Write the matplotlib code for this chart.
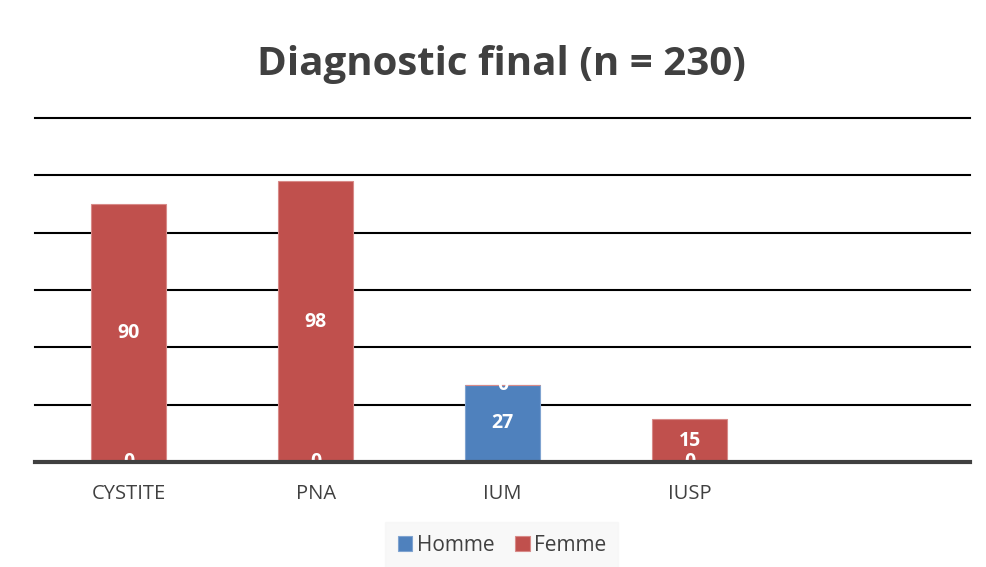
import matplotlib
matplotlib.use("Agg")
import matplotlib.pyplot as plt
import numpy as np

categories = ["CYSTITE", "PNA", "IUM", "IUSP", ""]
homme = [0, 0, 27, 0, None]
femme = [90, 98, 0, 15, None]
title = "Diagnostic final (n = 230)"

blue = "#4F81BD"
red = "#C0504D"
dark = "#404040"

plt.rcParams['font.family'] = ['Open Sans', 'DejaVu Sans']

fig = plt.figure(figsize=(9.86, 5.67), dpi=100)
ax = fig.add_axes([0.0355, 0.185, 0.9485, 0.607])

x = np.arange(len(categories))
n = 4
h = np.array(homme[:n], dtype=float)
f = np.array(femme[:n], dtype=float)
w = 0.4
bh = ax.bar(x[:n], h, w, color=blue, edgecolor="#7FA3D0", linewidth=0.8, label="Homme", zorder=2)
bf = ax.bar(x[:n], f, w, bottom=h, color=red, edgecolor="#D88A88", linewidth=0.8, label="Femme", zorder=2)

for i in range(n):
    ax.text(x[i], h[i] / 2, f"{int(h[i])}", ha="center", va="center", color="white",
            fontsize=14, fontweight="bold", zorder=3)
    ax.text(x[i], h[i] + f[i] / 2, f"{int(f[i])}", ha="center", va="center", color="white",
            fontsize=14, fontweight="bold", zorder=3)

ax.set_xlim(-0.5, len(categories) - 0.5)
ax.set_ylim(0, 120)
ax.set_yticks(np.arange(20, 121, 20))
ax.yaxis.grid(True, color="black", linewidth=1.5, zorder=1)
for gl in ax.get_ygridlines():
    gl.set_clip_on(False)
ax.set_axisbelow(True)
ax.tick_params(axis="y", left=False, labelleft=False)
ax.set_xticks(x)
ax.set_xticklabels(categories, fontsize=14.5, color=dark)
ax.tick_params(axis="x", length=0, pad=16)
for s in ["left", "right", "top"]:
    ax.spines[s].set_visible(False)
ax.spines["bottom"].set_color(dark)
ax.spines["bottom"].set_linewidth(3)
ax.spines["bottom"].set_zorder(4)

fig.suptitle(title, x=0.509, y=0.92, fontsize=29, fontweight="bold", color=dark)

leg = fig.legend(handles=[bh, bf], loc="center", bbox_to_anchor=(0.509, 0.038), ncol=2,
                 frameon=True, fontsize=15, handlelength=0.7, handleheight=0.7,
                 handletextpad=0.2, columnspacing=1.0, borderpad=0.6, fancybox=False)
leg.get_frame().set_facecolor("#F7F7F7")
leg.get_frame().set_edgecolor("#F7F7F7")
for t in leg.get_texts():
    t.set_color(dark)

fig.savefig("out.png", dpi=100, facecolor="white")
